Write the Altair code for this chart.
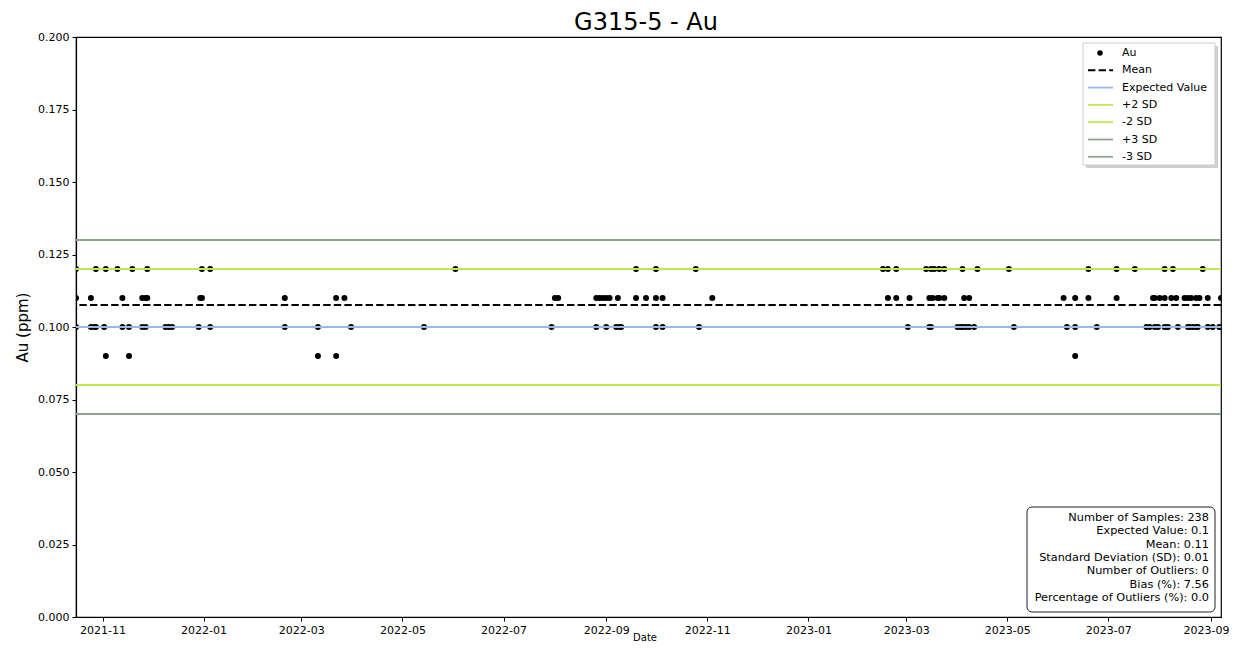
import altair as alt
import pandas as pd

# ---------------- data ----------------
dates_012 = ["2021-10-16", "2021-10-28", "2021-11-03", "2021-11-10", "2021-11-19", "2021-11-28",
             "2021-12-31", "2022-01-05", "2022-06-02", "2022-09-19", "2022-10-01", "2022-10-25",
             "2023-02-15", "2023-02-18", "2023-02-23", "2023-03-13", "2023-03-16", "2023-03-18",
             "2023-03-21", "2023-03-24", "2023-04-04", "2023-04-13", "2023-05-02", "2023-06-19",
             "2023-07-06", "2023-07-17", "2023-08-04", "2023-08-09", "2023-08-27"]
dates_011 = ["2021-10-16", "2021-10-25", "2021-11-13", "2021-11-25", "2021-11-27", "2021-11-28",
             "2021-12-30", "2021-12-31", "2022-02-19", "2022-03-22", "2022-03-27", "2022-08-01",
             "2022-08-03", "2022-08-26", "2022-08-28", "2022-08-30", "2022-09-01", "2022-09-03",
             "2022-09-08", "2022-09-19", "2022-09-25", "2022-10-01", "2022-10-05", "2022-11-04",
             "2023-02-18", "2023-02-23", "2023-03-03", "2023-03-15", "2023-03-17", "2023-03-20",
             "2023-03-21", "2023-03-24", "2023-04-05", "2023-04-08", "2023-06-04", "2023-06-11",
             "2023-06-19", "2023-07-06", "2023-07-28", "2023-07-29", "2023-08-01", "2023-08-04",
             "2023-08-08", "2023-08-11", "2023-08-16", "2023-08-18", "2023-08-20", "2023-08-23",
             "2023-08-25", "2023-08-30", "2023-09-07"]
dates_010 = ["2021-10-16", "2021-10-25", "2021-10-27", "2021-10-28", "2021-11-02", "2021-11-13",
             "2021-11-17", "2021-11-25", "2021-11-27", "2021-12-09", "2021-12-11", "2021-12-13",
             "2021-12-29", "2022-01-05", "2022-02-19", "2022-03-11", "2022-03-31", "2022-05-14",
             "2022-07-30", "2022-08-26", "2022-09-01", "2022-09-07", "2022-09-09", "2022-09-10",
             "2022-10-01", "2022-10-05", "2022-10-27", "2023-03-02", "2023-03-15", "2023-03-16",
             "2023-04-01", "2023-04-03", "2023-04-04", "2023-04-06", "2023-04-08", "2023-04-11",
             "2023-05-05", "2023-06-06", "2023-06-11", "2023-06-24", "2023-07-24", "2023-07-26",
             "2023-07-29", "2023-07-31", "2023-08-04", "2023-08-06", "2023-08-12", "2023-08-18",
             "2023-08-19", "2023-08-21", "2023-08-23", "2023-08-24", "2023-08-30", "2023-09-02",
             "2023-09-06"]
dates_009 = ["2021-11-03", "2021-11-17", "2022-03-11", "2022-03-22", "2023-06-11"]

levels = [0.12, 0.11, 0.10, 0.09]

expected_value = 0.10
mean_value = 0.10756
sd_value = 0.01

x_start = "2021-10-16"
x_end = "2023-09-07"
x_tick_labels = ["2021-11", "2022-01", "2022-03", "2022-05", "2022-07", "2022-09",
                 "2022-11", "2023-01", "2023-03", "2023-05", "2023-07", "2023-09"]
y_ticks = [0.0, 0.025, 0.05, 0.075, 0.1, 0.125, 0.15, 0.175, 0.2]

chart_title = "G315-5 - Au"
x_title = "Date"
y_title = "Au (ppm)"
legend_labels = ["Au", "Mean", "Expected Value", "+2 SD", "-2 SD", "+3 SD", "-3 SD"]
stats_lines = ["Number of Samples: 238", "Expected Value: 0.1", "Mean: 0.11",
               "Standard Deviation (SD): 0.01", "Number of Outliers: 0", "Bias (%): 7.56",
               "Percentage of Outliers (%): 0.0"]

# ---------------- build ----------------
rows = []
for lvl, ds in zip(levels, [dates_012, dates_011, dates_010, dates_009]):
    for d in ds:
        rows.append({"Date": d, "Au": lvl})
df = pd.DataFrame(rows)


def dt(s):
    parts = [int(p) for p in s.split("-")]
    day = parts[2] if len(parts) > 2 else 1
    return alt.DateTime(year=parts[0], month=parts[1], date=day, utc=True)


FONT = "DejaVu Sans"
x_enc = alt.X("Date:T", title=None,
              scale=alt.Scale(type="utc", domain=[dt(x_start), dt(x_end)], nice=False),
              axis=alt.Axis(values=[dt(t) for t in x_tick_labels], format="%Y-%m",
                            labelFontSize=11, tickSize=4, labelPadding=3,
                            labelOffset={"condition": {"test": "datum.index > 0.99", "value": -5},
                                         "value": 0}))
y_scale = alt.Scale(domain=[0, 0.2], nice=False, zero=False)
y_axis = alt.Axis(values=y_ticks, format=".3f", labelFontSize=11, titleFontSize=15,
                  tickSize=4, labelPadding=3, titlePadding=7)

points = alt.Chart(df).mark_circle(size=36, color="black", opacity=1, clip=True).encode(
    x=x_enc, y=alt.Y("Au:Q", title=y_title, scale=y_scale, axis=y_axis))

C_EXP = "#9ab7ec"
C_SD2 = "#bfe84a"
C_SD3 = "#8fa58f"


def hline(val, color, width=1.8, dash=None):
    kw = dict(color=color, strokeWidth=width)
    if dash:
        kw["strokeDash"] = dash
    return alt.Chart(pd.DataFrame({"Au": [val]})).mark_rule(**kw).encode(
        y=alt.Y("Au:Q", title=y_title, scale=y_scale, axis=y_axis))


lines = [
    hline(mean_value, "black", 2, [7.4, 3.2]),
    hline(expected_value, C_EXP),
    hline(expected_value + 2 * sd_value, C_SD2),
    hline(expected_value - 2 * sd_value, C_SD2),
    hline(expected_value + 3 * sd_value, C_SD3),
    hline(expected_value - 3 * sd_value, C_SD3),
]

one = pd.DataFrame({"k": [0]})

title_layer = alt.Chart(one).mark_text(
    align="center", baseline="middle", fontSize=24, font=FONT, color="black").encode(
    x=alt.value(570), y=alt.value(-14), text=alt.value(chart_title))
xtitle_layer = alt.Chart(one).mark_text(
    align="center", baseline="middle", fontSize=10, font=FONT, color="black").encode(
    x=alt.value(569), y=alt.value(601), text=alt.value(x_title))

# legend (pixel layout inside plot area)
lx0, lx1, ly0, ly1 = 1007, 1139, 6, 128
legend_layers = [
    alt.Chart(one).mark_rect(fill="#b0b0b0", opacity=0.6).encode(
        x=alt.value(lx0 + 3), x2=alt.value(lx1 + 3), y=alt.value(ly0 + 3), y2=alt.value(ly1 + 3)),
    alt.Chart(one).mark_rect(fill="white", stroke="#cccccc", strokeWidth=1).encode(
        x=alt.value(lx0), x2=alt.value(lx1), y=alt.value(ly0), y2=alt.value(ly1)),
]
sym_styles = [None, ("black", [7.4, 3.2], 2), (C_EXP, None, 1.8), (C_SD2, None, 1.8),
              (C_SD2, None, 1.8), (C_SD3, None, 1.8), (C_SD3, None, 1.8)]
for i, lab in enumerate(legend_labels):
    yy = 16 + i * 17.3
    st = sym_styles[i]
    if st is None:
        legend_layers.append(alt.Chart(one).mark_circle(size=30, color="black", opacity=1).encode(
            x=alt.value(1024), y=alt.value(yy)))
    else:
        kw = dict(color=st[0], strokeWidth=st[2])
        if st[1]:
            kw["strokeDash"] = st[1]
        legend_layers.append(alt.Chart(one).mark_rule(**kw).encode(
            x=alt.value(1012), x2=alt.value(1037), y=alt.value(yy)))
    legend_layers.append(alt.Chart(one).mark_text(
        align="left", baseline="middle", fontSize=11, font=FONT, color="black").encode(
        x=alt.value(1046), y=alt.value(yy), text=alt.value(lab)))

# statistics box
sx0, sx1, sy0, sy1 = 951, 1139, 470, 575
stats_layers = [
    alt.Chart(one).mark_rect(fill="white", stroke="#222222", strokeWidth=1, cornerRadius=5).encode(
        x=alt.value(sx0), x2=alt.value(sx1), y=alt.value(sy0), y2=alt.value(sy1)),
]
for i, line in enumerate(stats_lines):
    stats_layers.append(alt.Chart(one).mark_text(
        align="right", baseline="middle", fontSize=11.3, font=FONT, color="black").encode(
        x=alt.value(1133), y=alt.value(481 + i * 13.3), text=alt.value(line)))

chart = alt.layer(points, *lines, title_layer, xtitle_layer, *legend_layers,
                  *stats_layers).properties(
    width=1145, height=580,
    autosize=alt.AutoSizeParams(type="none"),
    padding={"left": 68, "top": 29, "right": 9, "bottom": 25},
).configure_view(stroke="black", strokeWidth=1.2).configure_axis(
    grid=False, domainColor="black", tickColor="black", labelColor="black",
    titleColor="black", labelFont=FONT, titleFont=FONT, titleFontWeight="normal",
    domainWidth=1.2,
)

chart.save("out.html", embed_options={"renderer": "svg", "actions": False})
